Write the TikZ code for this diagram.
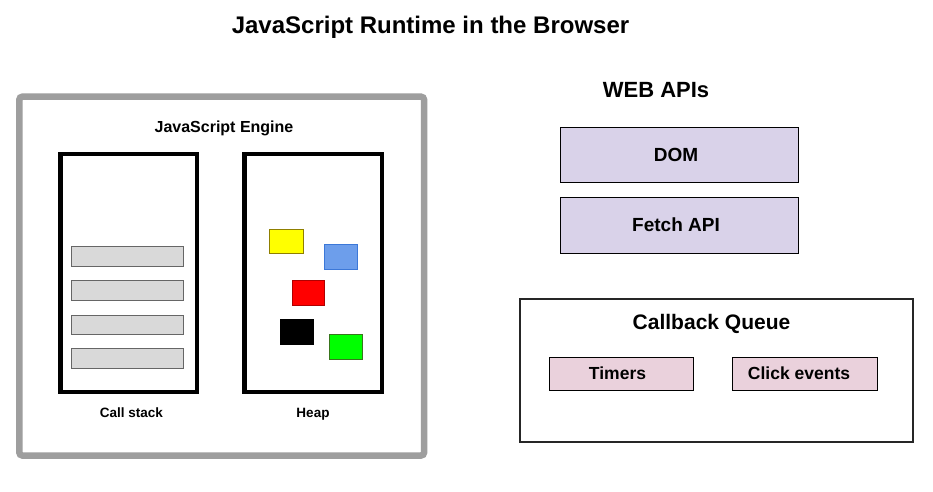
\documentclass[tikz,border=0pt]{standalone}
\usepackage{fontspec}
\setmainfont{Liberation Sans}
\definecolor{outergray}{HTML}{9E9E9E}
\definecolor{bargray}{HTML}{D9D9D9}
\definecolor{barline}{HTML}{666666}
\definecolor{lavender}{HTML}{D9D2E9}
\definecolor{pinkish}{HTML}{EAD1DC}
\definecolor{sqyellow}{HTML}{FFFF00}
\definecolor{sqyellowl}{HTML}{8F7F00}
\definecolor{sqblue}{HTML}{6D9EEB}
\definecolor{sqbluel}{HTML}{3C78D8}
\definecolor{sqred}{HTML}{FF0000}
\definecolor{sqredl}{HTML}{B00000}
\definecolor{sqgreen}{HTML}{00FF00}
\definecolor{sqgreenl}{HTML}{38761D}
\begin{document}
\begin{tikzpicture}[x=1pt,y=-1pt,
  box/.style={draw, rectangle, inner sep=0pt, outer sep=0pt},
  lbl/.style={anchor=base, inner sep=0pt, font=\bfseries\fontsize{#1}{#1}\selectfont},
  clbl/.style={anchor=center, inner sep=0pt, font=\bfseries\fontsize{#1}{#1}\selectfont},
  memory/.style={box, line width=4.4pt},
  frame/.style={box, line width=0.9pt, draw=barline, fill=bargray, minimum width=112pt},
  sq/.style={box, line width=0.9pt, minimum width=33pt, minimum height=25pt},
  api/.style={box, line width=1pt, fill=lavender, minimum width=238pt},
  cb/.style={box, line width=1pt, fill=pinkish, minimum height=33pt}
]
\useasboundingbox (0,0) rectangle (933,491);
\fill[white] (0,0) rectangle (933,491);

% title
\node[lbl=24] (title) at (430.5,33) {JavaScript Runtime in the Browser};

% JavaScript engine
\node[box, line width=6.5pt, draw=outergray, rounded corners=3pt,
      minimum width=404.7pt, minimum height=358.8pt] (engine) at (221.7,276.1) {};
\node[lbl=16] (enginelbl) at (224,132) {JavaScript Engine};

\node[memory, minimum width=136.5pt, minimum height=238.2pt] (stack) at (128.75,272.9) {};
\node[memory, minimum width=137.5pt, minimum height=238.2pt] (heap) at (313.25,272.9) {};
\node[lbl=13.5] (stacklbl) at (131.5,417) {Call stack};
\node[lbl=13.5] (heaplbl) at (313,417) {Heap};

\node[frame, minimum height=20pt] (f1) at (127,256) {};
\node[frame, minimum height=20pt] (f2) at (127,290) {};
\node[frame, minimum height=19pt] (f3) at (127,324.5) {};
\node[frame, minimum height=20pt] (f4) at (127,358) {};

\node[sq, fill=sqyellow, draw=sqyellowl, minimum width=34pt, minimum height=24pt] (yel) at (286,241) {};
\node[sq, fill=sqblue, draw=sqbluel] (blu) at (340.5,256.5) {};
\node[sq, fill=sqred, draw=sqredl, minimum width=32pt] (red) at (308,292.5) {};
\node[sq, fill=black, draw=black] (blk) at (296.5,331.5) {};
\node[sq, fill=sqgreen, draw=sqgreenl] (grn) at (345.5,346.5) {};

% Web APIs
\node[lbl=22] (webapis) at (656,97) {WEB APIs};
\node[api, minimum height=55pt] (dom) at (679,154.5) {};
\node[api, minimum height=56pt] (fetch) at (679,225) {};
\node[clbl=19] (domlbl) at ([xshift=-3pt]dom.center) {DOM};
\node[clbl=19] (fetchlbl) at ([xshift=-3pt]fetch.center) {Fetch API};

% Callback queue
\node[box, line width=2pt, draw=black!85, minimum width=393pt, minimum height=143pt] (queue) at (716.5,370.5) {};
\node[lbl=21] (queuelbl) at (711.5,329) {Callback Queue};
\node[cb, minimum width=144pt] (timers) at (621,373.5) {};
\node[cb, minimum width=145pt] (clicks) at (804.5,373.5) {};
\node[clbl=17.5] (timerslbl) at ([xshift=-3.5pt]timers.center) {Timers};
\node[clbl=17.5] (clickslbl) at ([xshift=-5.5pt]clicks.center) {Click events};
\end{tikzpicture}
\end{document}
